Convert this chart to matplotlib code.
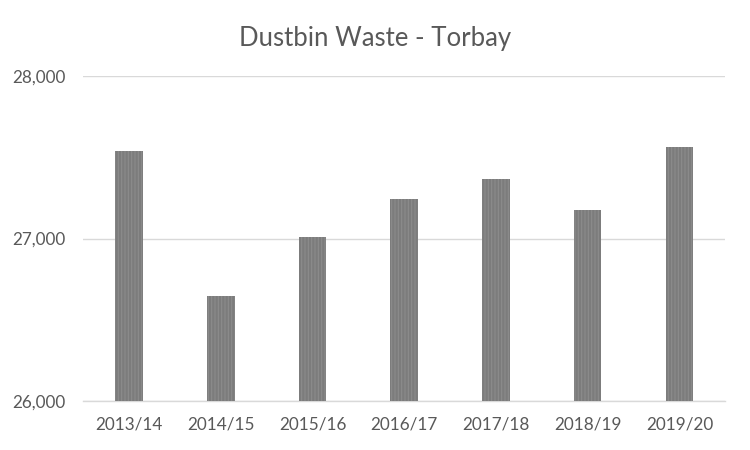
import matplotlib
matplotlib.use("Agg")
import matplotlib.pyplot as plt
from matplotlib.ticker import FuncFormatter

categories = ["2013/14", "2014/15", "2015/16", "2016/17", "2017/18", "2018/19", "2019/20"]
values = [27541, 26643, 27012, 27246, 27369, 27178, 27566]
yticks = [26000, 27000, 28000]

plt.rcParams['font.family'] = ['Lato', 'DejaVu Sans']
plt.rcParams['hatch.linewidth'] = 0.8
plt.rcParams['hatch.color'] = '#8c8c8c'

fig = plt.figure(figsize=(7.5, 4.5), dpi=100)
ax = fig.add_axes([0.111, 0.109, 0.856, 0.722])

x = list(range(len(categories)))
ax.bar(x, values, width=0.30, color='#7c7c7c', hatch='|||||', edgecolor='#8c8c8c',
       linewidth=0, zorder=3)

ax.set_ylim(26000, 28000)
ax.set_xlim(-0.5, len(categories) - 0.5)
ax.set_yticks(yticks)
ax.yaxis.set_major_formatter(FuncFormatter(lambda v, p: f"{int(v):,}"))
ax.set_xticks(x)
ax.set_xticklabels(categories)
ax.grid(axis='y', color='#d9d9d9', linewidth=1, zorder=0)
for s in ['top', 'right', 'left']:
    ax.spines[s].set_visible(False)
ax.spines['bottom'].set_color('#d9d9d9')
ax.spines['bottom'].set_linewidth(1)
ax.tick_params(length=0, labelsize=12.3, colors='#595959')
ax.tick_params(axis='x', pad=11)
ax.tick_params(axis='y', pad=13)

fig.text(0.5, 0.915, "Dustbin Waste - Torbay", ha='center', va='center',
         fontsize=18.5, color='#595959')

fig.savefig("out.png", dpi=100, facecolor='white')
